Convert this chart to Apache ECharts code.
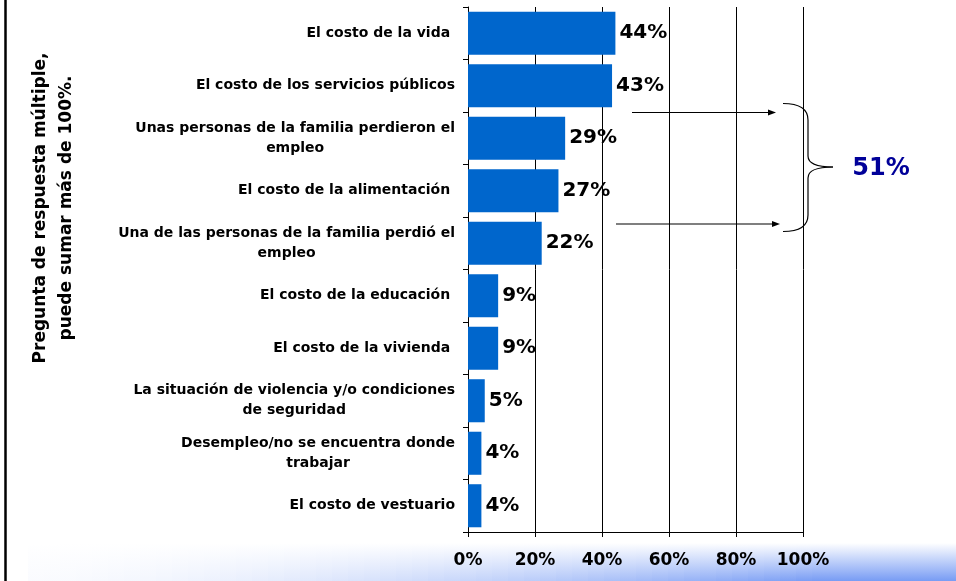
<!DOCTYPE html>
<html>
<head>
<meta charset="utf-8">
<script src="https://cdn.jsdelivr.net/npm/echarts@6/dist/echarts.min.js"></script>
<style>
  html, body { margin: 0; padding: 0; background: #fff; }
  #chart { width: 956px; height: 581px; }
</style>
</head>
<body>
<div id="chart"></div>
<script>
// razones (pregunta de respuesta multiple)
var categories = [
  'El costo de la vida ',
  'El costo de los servicios públicos',
  'Unas personas de la familia perdieron el\nempleo',
  'El costo de la alimentación ',
  'Una de las personas de la familia perdió el\nempleo',
  'El costo de la educación ',
  'El costo de la vivienda ',
  'La situación de violencia y/o condiciones\nde seguridad',
  'Desempleo/no se encuentra donde\ntrabajar',
  'El costo de vestuario'
]
var values = [44, 43, 29, 27, 22, 9, 9, 5, 4, 4]
var xTicks = [0, 20, 40, 60, 80, 100]
var groupTotal = '51%'
var sideNote = 'Pregunta de respuesta múltiple,\npuede sumar más de 100%.'

var FONT = 'DejaVu Sans'
var chart = echarts.init(document.getElementById('chart'))

// franja degradada de abajo
var band = []
var x0 = 28
var x1 = 956
var steps = 58
for (var i = 0; i < steps; i++) {
  var xa = Math.round(x0 + (x1 - x0) * i / steps)
  var xb = Math.round(x0 + (x1 - x0) * (i + 1) / steps)
  var t = (i + 0.5) / steps
  var a = Math.min(1, 0.04 + Math.pow(t, 1.6) * 1.25)
  band.push({
    type: 'rect',
    silent: true,
    z: -10,
    shape: { x: xa, y: 543, width: xb - xa, height: 38 },
    style: {
      fill: new echarts.graphic.LinearGradient(0, 0, 0, 1, [
        { offset: 0, color: 'rgba(120,156,244,0)' },
        { offset: 0.45, color: 'rgba(120,156,244,' + (a * 0.45) + ')' },
        { offset: 1, color: 'rgba(120,156,244,' + a + ')' }
      ])
    }
  })
}

function seg(type, shape, w) {
  return { type: type, silent: true, shape: shape, style: { stroke: '#000', lineWidth: w || 1.2, fill: null } }
}

// llave
var brace = [
  seg('bezierCurve', { x1: 783, y1: 103.5, x2: 808, y2: 120, cpx1: 808, cpy1: 103.5 }),
  seg('line', { x1: 808, y1: 120, x2: 808, y2: 156 }),
  seg('bezierCurve', { x1: 808, y1: 156, x2: 833, y2: 167, cpx1: 808, cpy1: 167 }),
  seg('bezierCurve', { x1: 833, y1: 167, x2: 808, y2: 178, cpx1: 808, cpy1: 167 }),
  seg('line', { x1: 808, y1: 178, x2: 808, y2: 215 }),
  seg('bezierCurve', { x1: 808, y1: 215, x2: 783, y2: 231.5, cpx1: 808, cpy1: 231.5 })
]

var option = {
  backgroundColor: '#fff',
  animation: false,
  grid: { left: 468, right: 153, top: 7, bottom: 49, containLabel: false },
  xAxis: {
    type: 'value',
    min: 0,
    max: 100,
    interval: 20,
    axisLine: { show: true, lineStyle: { color: '#000', width: 1 } },
    axisTick: { show: true, length: 5, lineStyle: { color: '#000' } },
    splitLine: { show: true, lineStyle: { color: '#000', width: 1 } },
    axisLabel: {
      margin: 20,
      color: '#000',
      fontFamily: FONT,
      fontWeight: 'bold',
      fontSize: 17,
      formatter: function (v) { return xTicks.indexOf(v) >= 0 ? v + '%' : '' }
    }
  },
  yAxis: {
    type: 'category',
    inverse: true,
    data: categories,
    axisLine: { show: true, lineStyle: { color: '#000', width: 1 } },
    axisTick: { show: true, length: 5, lineStyle: { color: '#000' } },
    axisLabel: {
      margin: 13,
      color: '#000',
      formatter: function (v) {
        return v.split('\n').map(function (l) { return '{c|' + l + '}' }).join('\n')
      },
      rich: {
        c: {
          align: 'center',
          color: '#000',
          fontFamily: FONT,
          fontWeight: 'bold',
          fontSize: 14,
          lineHeight: 20
        }
      }
    }
  },
  series: [
    {
      type: 'bar',
      data: values,
      barCategoryGap: '18%',
      itemStyle: { color: '#0066cc' },
      label: {
        show: true,
        position: 'right',
        distance: 4,
        formatter: '{c}%',
        color: '#000',
        fontFamily: FONT,
        fontWeight: 'bold',
        fontSize: 20
      }
    }
  ],
  graphic: band.concat(brace, [
    // borde izquierdo
    seg('line', { x1: 5.5, y1: 0, x2: 5.5, y2: 581 }, 2.5),
    {
      type: 'text',
      silent: true,
      x: 54,
      y: 208,
      rotation: Math.PI / 2,
      style: {
        text: sideNote,
        font: 'bold 17px "DejaVu Sans"',
        fill: '#000',
        align: 'center',
        verticalAlign: 'middle',
        lineHeight: 26
      }
    },
    // flechas
    seg('line', { x1: 632, y1: 112.5, x2: 770, y2: 112.5 }, 1),
    {
      type: 'polygon',
      silent: true,
      shape: { points: [[776, 112.5], [768, 109.5], [768, 115.5]] },
      style: { fill: '#000' }
    },
    seg('line', { x1: 616, y1: 224, x2: 774, y2: 224 }, 1.2),
    {
      type: 'polygon',
      silent: true,
      shape: { points: [[780, 224], [772, 221], [772, 227]] },
      style: { fill: '#000' }
    },
    {
      type: 'text',
      silent: true,
      x: 881,
      y: 169,
      style: {
        text: groupTotal,
        font: 'bold 24px "DejaVu Sans"',
        fill: '#000099',
        align: 'center',
        verticalAlign: 'middle'
      }
    }
  ])
}

chart.setOption(option)
</script>
</body>
</html>
